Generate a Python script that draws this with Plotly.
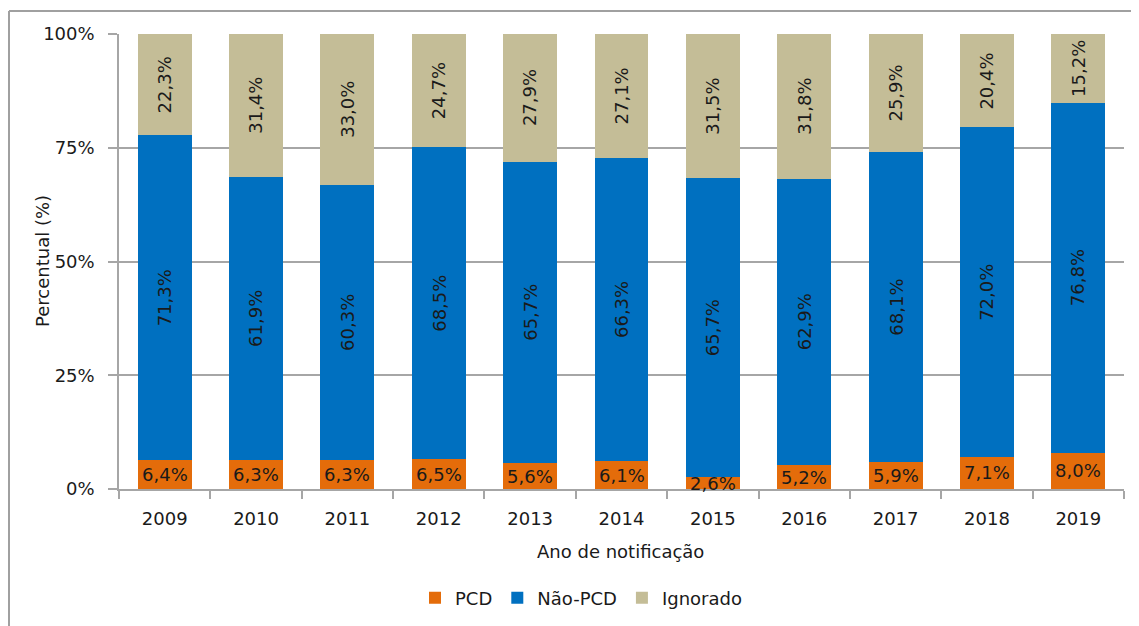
import plotly.graph_objects as go

years = ["2009", "2010", "2011", "2012", "2013", "2014", "2015", "2016", "2017", "2018", "2019"]
pcd = [6.4, 6.3, 6.3, 6.5, 5.6, 6.1, 2.6, 5.2, 5.9, 7.1, 8.0]
nao_pcd = [71.3, 61.9, 60.3, 68.5, 65.7, 66.3, 65.7, 62.9, 68.1, 72.0, 76.8]
ignorado = [22.3, 31.4, 33.0, 24.7, 27.9, 27.1, 31.5, 31.8, 25.9, 20.4, 15.2]
y_ticks = [0, 25, 50, 75, 100]
y_ticklabels = ["0%", "25%", "50%", "75%", "100%"]

FONT = "DejaVu Sans"
FS = 18
TXT = "#1a1a1a"
GRID = "#a6a6a6"


def lab(v):
    return f"{v:.1f}".replace(".", ",") + "%"


fig = go.Figure()
series = [
    ("PCD", pcd, "#E46C0A", 0),
    ("Não-PCD", nao_pcd, "#0070C0", -90),
    ("Ignorado", ignorado, "#C4BD97", -90),
]
for name, vals, col, ang in series:
    fig.add_trace(go.Bar(
        x=years, y=vals, name=name,
        marker=dict(color=col, line=dict(width=0)),
    ))

# data labels centred in each (100%-normalised) stacked segment;
# x given as the category index on the category axis
annotations = []
for i, yr in enumerate(years):
    tot = pcd[i] + nao_pcd[i] + ignorado[i]
    base = 0.0
    for name, vals, col, ang in series:
        h = vals[i] / tot * 100
        annotations.append(dict(
            x=i, y=base + h / 2, xref="x", yref="y", text=lab(vals[i]),
            textangle=ang, showarrow=False, xanchor="center", yanchor="middle",
            font=dict(family=FONT, size=FS, color=TXT),
        ))
        base += h

W, H = 1139, 626
OFF = 8  # page body margin
L, R, T, B = 111, 23, 26, 145
pw, ph = W - L - R, H - T - B


def px(s):
    return (s - OFF - L) / pw


def py(s):
    return (H - B - (s - OFF)) / ph


annotations += [
    dict(text="Percentual (%)", textangle=-90, x=px(42), y=py(261), xref="paper", yref="paper",
         showarrow=False, xanchor="center", yanchor="middle",
         font=dict(family=FONT, size=FS, color=TXT)),
    dict(text="Ano de notificação", x=px(620), y=py(551), xref="paper", yref="paper",
         showarrow=False, xanchor="center", yanchor="middle",
         font=dict(family=FONT, size=FS, color=TXT)),
]

fig.update_layout(
    width=W, height=H,
    barmode="stack", barnorm="percent", bargap=0.41,
    margin=dict(l=L, r=R, t=T, b=B, pad=0),
    paper_bgcolor="white", plot_bgcolor="white",
    font=dict(family=FONT, size=FS, color=TXT),
    showlegend=True,
    legend=dict(orientation="h", x=px(581), xanchor="center", y=py(598), yanchor="middle",
                font=dict(family=FONT, size=FS, color=TXT), traceorder="normal",
                itemwidth=30, bgcolor="rgba(0,0,0,0)"),
    xaxis=dict(
        type="category", range=[-0.5, len(years) - 0.5],
        showgrid=False, showline=True, linecolor=GRID, linewidth=1.5,
        ticks="outside", tickson="boundaries", ticklen=8, tickcolor=GRID, tickwidth=1.5,
        ticklabelstandoff=13, tickfont=dict(family=FONT, size=FS, color=TXT),
    ),
    yaxis=dict(
        range=[0, 100], tickvals=y_ticks, ticktext=y_ticklabels,
        showgrid=True, gridcolor=GRID, gridwidth=1.5,
        showline=True, linecolor=GRID, linewidth=1.5,
        ticks="outside", ticklen=9, tickcolor=GRID, tickwidth=1.5,
        ticklabelstandoff=10, tickfont=dict(family=FONT, size=FS, color=TXT),
        zeroline=False,
    ),
    annotations=annotations,
    shapes=[
        dict(type="line", xref="paper", yref="paper", x0=px(9), x1=px(9), y0=py(660), y1=py(11),
             line=dict(color="#a0a0a0", width=2)),
        dict(type="line", xref="paper", yref="paper", x0=px(9), x1=px(1160), y0=py(11), y1=py(11),
             line=dict(color="#a0a0a0", width=2)),
    ],
)

fig.write_html("out.html")
